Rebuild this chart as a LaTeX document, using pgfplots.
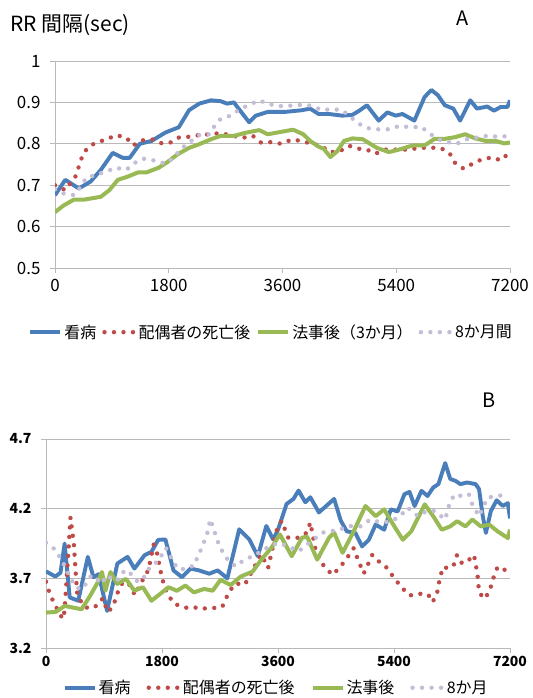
\documentclass[border=0pt]{standalone}
\usepackage{fontspec}
\setmainfont{Noto Sans CJK JP}
\usepackage{pgfplots}
\pgfplotsset{compat=1.18}

\definecolor{cBlue}{RGB}{74,126,187}
\definecolor{cRed}{RGB}{190,75,72}
\definecolor{cGreen}{RGB}{152,185,84}
\definecolor{cLav}{RGB}{196,189,214}
\definecolor{cGrid}{RGB}{185,185,185}

\pgfplotsset{
  rrbase/.style={
    scale only axis,
    axis x line*=bottom, axis y line*=left,
    axis line style={cGrid, line width=0.8bp, -},
    ymajorgrids, major grid style={cGrid, line width=0.8bp},
    tick style={cGrid, line width=0.8bp},
    major tick length=5bp,
    tick align=outside,
    xmin=0, xmax=7200, xtick={0,1800,3600,5400,7200},
    scaled x ticks=false, scaled y ticks=false,
    /pgf/number format/1000 sep={},
    /pgf/number format/assume math mode=true,
    legend columns=4,
    legend cell align=left,
    legend image code/.code={\draw[##1] (0bp,0bp) -- (30bp,0bp);},
  },
  sBlue/.style={cBlue, line width=3.9bp, line join=round},
  sRed/.style={cRed, line width=4.4bp, line cap=round, dash pattern=on 0bp off 9.5bp},
  sGreen/.style={cGreen, line width=4bp, line join=round},
  sLav/.style={cLav, line width=4.4bp, line cap=round, dash pattern=on 0bp off 9.5bp},
}

\begin{document}
\begin{tikzpicture}
\useasboundingbox (0,0) rectangle (533bp,698bp);

\node[anchor=west, font=\fontsize{21}{24}\selectfont] at (7bp,673bp) {RR 間隔(sec)};
\node[font=\fontsize{20}{24}\selectfont] at (463bp,680bp) {A};
\node[font=\fontsize{20}{24}\selectfont] at (489bp,298bp) {B};

% ---------- upper panel: RR interval ----------
\begin{axis}[rrbase,
  at={(55bp,430bp)}, anchor=south west,
  width=455bp, height=207bp,
  ymin=0.5, ymax=1, ytick={0.5,0.6,...,1.01},
  ticklabel style={font=\fontsize{17}{19}\selectfont},
  yticklabel style={xshift=-6bp},
  xticklabel style={yshift=-3bp},
  legend style={draw=none, fill=none, at={(0.475,-0.31)}, anchor=center,
    font=\fontsize{16}{18}\selectfont,
    nodes={inner xsep=2bp},
    /tikz/every even column/.append style={column sep=4bp}},
]
\addplot[sBlue] coordinates {
(0,0.676) (163,0.713) (377,0.692) (565,0.709) (725,0.737) (913,0.778)
(1074,0.766) (1182,0.766) (1342,0.800) (1530,0.807) (1745,0.827) (1959,0.840)
(2120,0.881) (2282,0.897) (2468,0.905) (2620,0.903) (2723,0.897) (2830,0.900)
(3072,0.852) (3178,0.868) (3366,0.877) (3634,0.877) (3903,0.881) (4037,0.885)
(4171,0.872) (4332,0.872) (4547,0.868) (4708,0.870) (4815,0.880) (4936,0.893)
(5123,0.856) (5258,0.876) (5391,0.868) (5498,0.872) (5687,0.856) (5848,0.913)
(5955,0.930) (6061,0.917) (6169,0.893) (6303,0.885) (6411,0.856) (6571,0.905)
(6678,0.885) (6840,0.890) (6947,0.880) (7054,0.889) (7160,0.889) (7200,0.905)
};
\addlegendentry{看病}
\addplot[sRed] coordinates {
(0,0.700) (163,0.688) (323,0.721) (377,0.745) (431,0.770) (511,0.790)
(646,0.803) (806,0.810) (967,0.821) (1128,0.815) (1236,0.796) (1369,0.808)
(1530,0.811) (1691,0.801) (1825,0.803) (1959,0.815) (2120,0.817) (2282,0.821)
(2443,0.823) (2620,0.826) (2810,0.819) (2991,0.815) (3125,0.820) (3259,0.803)
(3420,0.804) (3582,0.800) (3741,0.810) (3903,0.807) (4064,0.800) (4224,0.795)
(4332,0.780) (4493,0.781) (4654,0.795) (4815,0.788) (4936,0.786) (5069,0.776)
(5230,0.786) (5418,0.786) (5580,0.786) (5767,0.790) (5928,0.791) (6115,0.789)
(6249,0.776) (6330,0.754) (6464,0.740) (6598,0.751) (6760,0.763) (6920,0.767)
(7054,0.760) (7200,0.780)
};
\addlegendentry{配偶者の死亡後}
\addplot[sGreen] coordinates {
(0,0.635) (136,0.651) (296,0.665) (456,0.665) (725,0.672) (860,0.688)
(995,0.713) (1155,0.721) (1316,0.731) (1450,0.731) (1638,0.742) (1772,0.755)
(1933,0.774) (2120,0.790) (2282,0.799) (2468,0.811) (2620,0.819) (2830,0.819)
(3024,0.827) (3232,0.833) (3366,0.823) (3582,0.829) (3769,0.834) (3929,0.823)
(4037,0.807) (4171,0.793) (4251,0.788) (4359,0.768) (4466,0.782) (4574,0.807)
(4708,0.813) (4868,0.811) (5096,0.790) (5284,0.780) (5445,0.786) (5659,0.796)
(5848,0.796) (6007,0.812) (6169,0.812) (6330,0.816) (6491,0.823) (6651,0.813)
(6813,0.807) (6973,0.807) (7107,0.801) (7200,0.803)
};
\addlegendentry{法事後（3か月）}
\addplot[sLav] coordinates {
(0,0.690) (136,0.680) (296,0.676) (431,0.700) (485,0.717) (646,0.725)
(806,0.733) (967,0.742) (1128,0.737) (1262,0.754) (1396,0.764) (1557,0.760)
(1745,0.752) (1879,0.766) (1986,0.787) (2120,0.803) (2282,0.821) (2443,0.823)
(2510,0.840) (2620,0.860) (2782,0.868) (2916,0.883) (3072,0.894) (3232,0.905)
(3366,0.897) (3528,0.891) (3715,0.892) (3903,0.894) (4064,0.892) (4224,0.881)
(4386,0.884) (4547,0.881) (4681,0.864) (4815,0.848) (4936,0.838) (5096,0.835)
(5284,0.835) (5445,0.843) (5616,0.840) (5794,0.841) (5917,0.826) (6061,0.811)
(6222,0.804) (6357,0.800) (6518,0.811) (6678,0.815) (6866,0.820) (7027,0.816)
(7200,0.820)
};
\addlegendentry{8か月間}
\end{axis}

% ---------- lower panel ----------
\begin{axis}[rrbase,
  at={(46bp,50bp)}, anchor=south west,
  width=464bp, height=209bp,
  ymin=3.2, ymax=4.7, ytick={3.2,3.7,4.2,4.7},
  yticklabel={\pgfmathprintnumber[fixed,precision=1,fixed zerofill]{\tick}},
  ticklabel style={font=\fontsize{14}{16}\selectfont\bfseries},
  yticklabel style={xshift=-6bp},
  legend style={draw=none, fill=none, at={(0.496,-0.19)}, anchor=center,
    font=\fontsize{16}{18}\selectfont,
    nodes={inner xsep=2bp},
    /tikz/every even column/.append style={column sep=14bp}},
]
\addplot[sBlue] coordinates {
(0,3.750) (144,3.713) (225,3.740) (289,3.950) (368,3.563) (500,3.539)
(649,3.854) (737,3.708) (817,3.730) (948,3.466) (1107,3.806) (1266,3.854)
(1372,3.770) (1530,3.866) (1636,3.890) (1741,3.976) (1853,3.979) (1978,3.757)
(2110,3.708) (2242,3.770) (2374,3.757) (2532,3.733) (2664,3.757) (2814,3.700)
(2998,4.052) (3155,3.979) (3287,3.859) (3419,4.076) (3525,3.979) (3602,4.052)
(3734,4.234) (3840,4.270) (3919,4.330) (4024,4.246) (4102,4.282) (4234,4.173)
(4340,4.216) (4471,4.270) (4575,4.113) (4668,4.037) (4800,4.026) (4904,3.929)
(5010,3.977) (5115,4.086) (5247,4.049) (5351,4.195) (5457,4.180) (5562,4.304)
(5641,4.320) (5720,4.219) (5826,4.328) (5921,4.291) (6009,4.352) (6089,4.376)
(6194,4.527) (6273,4.413) (6352,4.400) (6430,4.376) (6535,4.388) (6667,4.376)
(6720,4.340) (6773,4.159) (6826,4.026) (6903,4.183) (6993,4.260) (7088,4.220)
(7167,4.240) (7200,4.130)
};
\addlegendentry{看病}
\addplot[sRed] coordinates {
(0,3.676) (65,3.580) (144,3.507) (222,3.434) (275,3.410) (301,3.556)
(328,3.749) (354,3.943) (380,4.137) (433,3.943) (459,3.749) (486,3.580)
(591,3.495) (695,3.483) (801,3.507) (880,3.556) (959,3.459) (1038,3.495)
(1117,3.604) (1195,3.676) (1300,3.652) (1380,3.580) (1485,3.676) (1591,3.761)
(1670,3.943) (1723,3.880) (1800,3.700) (1880,3.592) (1985,3.519) (2117,3.495)
(2247,3.483) (2379,3.495) (2472,3.483) (2603,3.487) (2735,3.495) (2840,3.604)
(2946,3.664) (3076,3.652) (3129,3.689) (3208,3.761) (3340,3.871) (3446,3.774)
(3576,4.040) (3655,4.113) (3760,3.991) (3919,3.991) (4049,4.028) (4102,4.101)
(4181,3.907) (4313,3.786) (4445,3.725) (4550,3.774) (4654,3.834) (4774,3.916)
(4852,3.820) (4931,3.735) (5063,3.868) (5168,3.820) (5274,3.783) (5430,3.686)
(5536,3.626) (5641,3.577) (5800,3.589) (5930,3.585) (5994,3.529) (6062,3.577)
(6115,3.711) (6168,3.783) (6247,3.770) (6326,3.795) (6379,3.868) (6456,3.807)
(6535,3.820) (6641,3.868) (6694,3.735) (6720,3.601) (6799,3.553) (6878,3.601)
(6956,3.723) (7009,3.783) (7088,3.770) (7200,3.735)
};
\addlegendentry{配偶者の死亡後}
\addplot[sGreen] coordinates {
(0,3.454) (157,3.460) (289,3.502) (421,3.490) (553,3.478) (685,3.575)
(790,3.660) (869,3.745) (922,3.611) (1001,3.745) (1107,3.660) (1240,3.696)
(1372,3.611) (1504,3.636) (1636,3.539) (1768,3.587) (1900,3.636) (2032,3.611)
(2163,3.648) (2295,3.599) (2454,3.624) (2586,3.611) (2708,3.689) (2866,3.652)
(3023,3.713) (3208,3.749) (3340,3.834) (3498,3.919) (3629,4.016) (3813,3.859)
(3972,3.991) (4051,4.000) (4208,3.834) (4392,3.991) (4471,4.028) (4602,3.883)
(4774,4.037) (4957,4.219) (5115,4.146) (5247,4.195) (5404,4.074) (5536,3.977)
(5668,4.037) (5877,4.231) (6009,4.146) (6141,4.049) (6273,4.073) (6379,4.110)
(6509,4.073) (6615,4.122) (6746,4.073) (6878,4.085) (7009,4.037) (7167,3.989)
(7200,4.050)
};
\addlegendentry{法事後}
\addplot[sLav] coordinates {
(0,3.955) (144,3.906) (222,3.846) (300,3.780) (380,3.700) (460,3.640)
(540,3.620) (620,3.660) (700,3.720) (780,3.700) (860,3.660) (940,3.720)
(1020,3.700) (1100,3.680) (1180,3.740) (1260,3.760) (1340,3.720) (1420,3.676)
(1500,3.690) (1580,3.760) (1660,3.800) (1740,3.822) (1800,3.871) (1860,3.919)
(1940,3.850) (2020,3.786) (2100,3.760) (2200,3.786) (2288,3.786) (2393,3.894)
(2446,3.955) (2499,4.016) (2550,4.124) (2603,4.050) (2682,3.943) (2761,3.871)
(2840,3.822) (2946,3.786) (3076,3.834) (3208,3.859) (3340,3.894) (3470,3.930)
(3602,3.955) (3760,3.930) (3919,3.894) (4100,3.960) (4287,4.028) (4445,4.040)
(4575,4.052) (4681,4.076) (4878,4.073) (5036,4.122) (5200,4.100) (5351,4.110)
(5480,4.140) (5615,4.207) (5773,4.146) (5904,4.183) (6036,4.183) (6194,4.122)
(6273,4.256) (6352,4.304) (6450,4.290) (6562,4.304) (6615,4.231) (6720,4.146)
(6852,4.279) (7009,4.291) (7167,4.304)
};
\addlegendentry{8か月}
\end{axis}
\end{tikzpicture}
\end{document}
